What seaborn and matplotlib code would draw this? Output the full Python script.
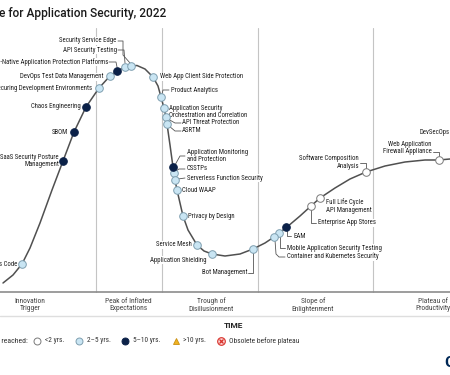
import matplotlib
matplotlib.use("Agg")
import matplotlib.pyplot as plt
import seaborn as sns
import pandas as pd

# ---------------- data ----------------
title = "Hype Cycle for Application Security, 2022"

curve_x = [3, 13, 22, 30, 40, 52, 63, 74, 86, 99, 110, 117, 125, 131, 137, 145, 153,
           158, 161, 164, 166, 167, 170, 173, 174, 175, 177, 180, 183, 188, 197, 204,
           212, 225, 240, 253, 265, 274, 279, 287, 300, 311, 320, 335, 350, 366, 385,
           405, 425, 439, 450]
curve_y = [283, 275, 264, 248, 223, 190, 161, 132, 107, 88, 76, 71, 67, 66, 65.5, 69, 77,
           86, 97, 108, 117, 124, 145, 167, 173, 180, 190, 203, 216, 230, 245, 251,
           254, 256, 254, 249, 243, 237, 233, 227, 216, 206, 198, 188, 179, 172, 166,
           162, 160, 160, 159]

tech = ["Policy as Code", "SaaS Security Posture\nManagement", "SBOM", "Chaos Engineering",
        "Securing Development Environments", "DevOps Test Data Management",
        "Cloud-Native Application Protection Platforms", "API Security Testing",
        "Security Service Edge", "Web App Client Side Protection", "Product Analytics",
        "Application Security\nOrchestration and Correlation", "API Threat Protection",
        "ASRTM", "Application Monitoring\nand Protection", "CSSTPs",
        "Serverless Function Security", "Cloud WAAP", "Privacy by Design", "Service Mesh",
        "Application Shielding", "Bot Management", "Mobile Application Security Testing",
        "Container and Kubernetes Security", "EAM", "Enterprise App Stores",
        "Full Life Cycle\nAPI Management", "Software Composition\nAnalysis",
        "Web Application\nFirewall Appliance", "DevSecOps"]
tech_x = [22, 63, 74, 86, 99, 110, 117, 125, 131, 153, 161, 164, 166, 167, 173, 174, 175,
          177, 183, 197, 212, 253, 279, 274, 286, 311, 320, 366, 439, 462]
tech_y = [264, 161, 132, 107, 88, 76, 71, 67, 66, 77, 97, 108, 117, 124, 167, 173, 180,
          190, 216, 245, 254, 249, 233, 237, 227, 206, 198, 172, 160, 159]
tech_cat = ["2-5", "5-10", "5-10", "5-10", "2-5", "2-5", "5-10", "2-5", "2-5", "2-5", "2-5",
            "2-5", "2-5", "2-5", "5-10", "2-5", "2-5", "2-5", "2-5", "2-5", "2-5", "2-5",
            "2-5", "2-5", "5-10", "<2", "<2", "<2", "<2", "<2"]

phases = ["Innovation\nTrigger", "Peak of Inflated\nExpectations", "Trough of\nDisillusionment",
          "Slope of\nEnlightenment", "Plateau of\nProductivity"]
legend_labels = ["<2 yrs.", "2\u20135 yrs.", "5\u201310 yrs.", ">10 yrs.", "Obsolete before plateau"]

# ---------------- layout / style ----------------
label_layout = {
    "Policy as Code": (17, 264, "right", None),
    "SaaS Security Posture\nManagement": (59, 161, "right", None),
    "SBOM": (68, 132, "right", None),
    "Chaos Engineering": (81, 107, "right", None),
    "Securing Development Environments": (92, 88, "right", None),
    "DevOps Test Data Management": (104, 77, "right", None),
    "Cloud-Native Application Protection Platforms": (108, 62, "right", [(109, 62), (116, 62), (117, 67)]),
    "API Security Testing": (117, 50, "right", [(118, 50), (124, 50), (125, 63)]),
    "Security Service Edge": (116, 41, "right", [(118, 41), (123, 41), (123, 55), (130, 63)]),
    "Web App Client Side Protection": (160, 77, "left", None),
    "Product Analytics": (171, 90, "left", [(162, 94), (163, 90), (169, 90)]),
    "Application Security\nOrchestration and Correlation": (169, 112, "left", None),
    "API Threat Protection": (182, 123, "left", [(168, 119), (175, 123), (181, 123)]),
    "ASRTM": (182, 131, "left", [(169, 126), (175, 131), (181, 131)]),
    "Application Monitoring\nand Protection": (187, 156, "left", [(175, 165), (180, 156), (185, 156)]),
    "CSSTPs": (187, 169, "left", [(176, 171), (179, 169), (185, 169)]),
    "Serverless Function Security": (187, 178, "left", [(178, 179), (185, 178)]),
    "Cloud WAAP": (182, 190, "left", None),
    "Privacy by Design": (188, 216, "left", None),
    "Service Mesh": (192, 245, "right", None),
    "Application Shielding": (207, 260, "right", None),
    "Bot Management": (247, 273, "right", [(248, 273), (253, 273), (253, 252)]),
    "Mobile Application Security Testing": (287, 248, "left", [(280, 236), (280, 248), (285, 248)]),
    "Container and Kubernetes Security": (287, 257, "left", [(275, 240), (276, 254), (279, 257), (285, 257)]),
    "EAM": (293, 236, "left", [(287, 230), (287, 236), (291, 236)]),
    "Enterprise App Stores": (318, 223, "left", [(311, 209), (311, 223), (316, 223)]),
    "Full Life Cycle\nAPI Management": (326, 206, "left", None),
    "Software Composition\nAnalysis": (359, 162, "right", [(360, 163), (366, 163), (366, 169)]),
    "Web Application\nFirewall Appliance": (432, 148, "right", [(433, 152), (439, 152), (439, 157)]),
    "DevSecOps": (419, 132, "left", None),
}

cat_style = {
    "<2": dict(fc="white", ec="#7a7a7a"),
    "2-5": dict(fc="#c9e5f3", ec="#7f9fb0"),
    "5-10": dict(fc="#0b2148", ec="#0b2148"),
}

sns.set_theme(style="white")
plt.rcParams["font.family"] = ["Roboto Condensed", "Liberation Sans Narrow", "Roboto", "DejaVu Sans"]

fig = plt.figure(figsize=(4.5, 3.75), dpi=100)
ax = fig.add_axes([0, 0, 1, 1])

# phase dividers and baseline
for xv in [96, 162, 258, 373]:
    ax.plot([xv, xv], [28, 292], color="#c4c4c4", lw=0.8, zorder=1)
ax.plot([0, 450], [292, 292], color="#8c8c8c", lw=1.2, zorder=1)
ax.plot([0, 450], [316, 316], color="#dedede", lw=1.0, zorder=1)

# hype curve
curve = pd.DataFrame({"x": curve_x, "y": curve_y})
sns.lineplot(data=curve, x="x", y="y", sort=False, estimator=None, color="#505050",
             lw=1.1, ax=ax, zorder=3)

# technologies
df = pd.DataFrame({"tech": tech, "x": tech_x, "y": tech_y, "cat": tech_cat})
for cat, st in cat_style.items():
    sub = df[df["cat"] == cat]
    sns.scatterplot(data=sub, x="x", y="y", color=st["fc"], edgecolor=st["ec"],
                    linewidth=0.7, s=30, ax=ax, zorder=5, legend=False)

label_fs = 4.9
for name in tech:
    lx, ly, ha, leader = label_layout[name]
    ax.text(lx, ly, name, ha=ha, va="center", fontsize=label_fs, color="#1e1e1e",
            multialignment=ha, linespacing=1.15, zorder=2,
            bbox=dict(facecolor="white", edgecolor="none", pad=0.4))
    if leader:
        ax.plot([p[0] for p in leader], [p[1] for p in leader], color="#555555",
                lw=0.6, zorder=2.5)

# title
ax.text(166, 13, title, ha="right", va="center", fontsize=8.6, color="#1a1a1a",
        family=["Roboto", "DejaVu Sans"], fontweight="medium")

# phase labels
for xc, ph in zip([30, 128, 211, 313, 433], phases):
    ax.text(xc, 305, ph, ha="center", va="center", fontsize=5.4, color="#444444",
            linespacing=1.1)

ax.text(233, 325, "TIME", ha="center", va="center", fontsize=6, fontweight="bold",
        color="#222222", family=["Roboto", "DejaVu Sans"])

# legend
ly = 341
ax.text(28, ly, "Plateau will be reached:", ha="right", va="center", fontsize=5.6, color="#333333")
ax.plot(37, ly, "o", ms=5, mfc="white", mec="#7a7a7a", mew=0.7)
ax.plot(79, ly, "o", ms=5, mfc="#c9e5f3", mec="#7f9fb0", mew=0.7)
ax.plot(125, ly, "o", ms=5, mfc="#0b2148", mec="#0b2148", mew=0.7)
ax.plot(176, ly - 0.5, "^", ms=5, mfc="#f0b323", mec="#c98f10", mew=0.6)
ax.plot(221, ly, "o", ms=5.5, mfc="#fbd3d3", mec="#d8312a", mew=0.8)
ax.plot(221, ly, "x", ms=3, mec="#d8312a", mew=0.9)
for xt, lab in zip([45, 87, 133, 183, 229], legend_labels):
    ax.text(xt, ly, lab, ha="left", va="center", fontsize=5.3, color="#333333")

# logo fragment
ax.text(444, 363, "Gartner", ha="left", va="center", fontsize=11, fontweight="bold",
        color="#002856", family=["Roboto", "DejaVu Sans"])

ax.set_xlim(0, 450)
ax.set_ylim(375, 0)
ax.axis("off")
fig.savefig("out.png", dpi=100)
